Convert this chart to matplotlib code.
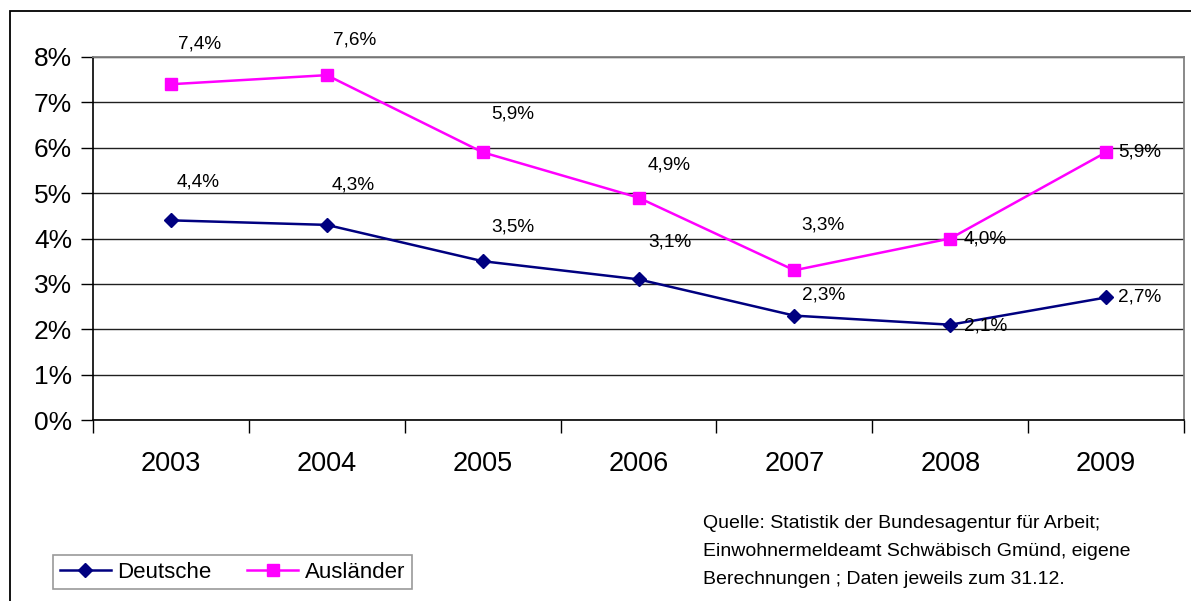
import matplotlib
matplotlib.use("Agg")
import matplotlib.pyplot as plt
from matplotlib.patches import Rectangle
from matplotlib.lines import Line2D

plt.rcParams['font.family'] = ['Liberation Sans', 'DejaVu Sans']

years = ['2003', '2004', '2005', '2006', '2007', '2008', '2009']
deutsche = [4.4, 4.3, 3.5, 3.1, 2.3, 2.1, 2.7]
auslaender = [7.4, 7.6, 5.9, 4.9, 3.3, 4.0, 5.9]
y_ticks = [0, 1, 2, 3, 4, 5, 6, 7, 8]
source_lines = [
    'Quelle: Statistik der Bundesagentur für Arbeit;',
    'Einwohnermeldeamt Schwäbisch Gmünd, eigene',
    'Berechnungen ; Daten jeweils zum 31.12.',
]

W, H = 1191, 601
fig = plt.figure(figsize=(W / 100, H / 100), dpi=100)

# outer chart frame
fig.patches.append(Rectangle((10 / W, -0.01), 1.02, (H - 11) / H + 0.01,
                             transform=fig.transFigure, fill=False,
                             edgecolor='black', lw=1.3))

left, right, top, bottom = 93, 1184, 57, 420
ax = fig.add_axes([left / W, 1 - bottom / H, (right - left) / W, (bottom - top) / H])

x = list(range(len(years)))
ax.plot(x, deutsche, color='#000080', lw=1.8, marker='D', ms=7.5,
        markerfacecolor='#000080', markeredgecolor='#000080', zorder=3)
ax.plot(x, auslaender, color='#FF00FF', lw=1.8, marker='s', ms=8,
        markerfacecolor='#FF00FF', markeredgecolor='#FF00FF', zorder=3)

ax.set_xlim(-0.5, len(years) - 0.5)
ax.set_ylim(0, 8)
ax.set_yticks(y_ticks)
ax.set_yticklabels([f'{t}%' for t in y_ticks], fontsize=19)
ax.yaxis.grid(True, color='#202020', lw=1)
ax.set_axisbelow(True)

# category ticks sit between the years
ax.set_xticks([i - 0.5 for i in range(len(years) + 1)])
ax.set_xticklabels([])
ax.set_xticks(x, minor=True)
ax.set_xticklabels(years, minor=True, fontsize=19.5)
ax.tick_params(axis='x', which='minor', length=0, pad=22)
ax.tick_params(axis='x', which='major', length=9, width=1, direction='out')
ax.tick_params(axis='y', length=9, width=1, direction='out', pad=6)

for s in ['top', 'right']:
    ax.spines[s].set_color('#808080')
    ax.spines[s].set_linewidth(1.3)
for s in ['left', 'bottom']:
    ax.spines[s].set_color('black')
    ax.spines[s].set_linewidth(1.2)

def pct(v):
    return f'{v:.1f}'.replace('.', ',') + '%'

# label offsets in pixels (right, up) from each point
offs_a = [(29, 40), (28, 35), (30, 38), (31, 33), (29, 45), (35, -1), (34, 0)]
offs_d = [(27, 38), (26, 40), (30, 34), (31, 37), (29, 21), (35, -1), (34, 0)]
for i in x:
    ax.annotate(pct(auslaender[i]), (i, auslaender[i]), xytext=offs_a[i],
                textcoords='offset pixels', ha='center', va='center',
                fontsize=13.7, annotation_clip=False, zorder=4)
    ax.annotate(pct(deutsche[i]), (i, deutsche[i]), xytext=offs_d[i],
                textcoords='offset pixels', ha='center', va='center',
                fontsize=13.7, annotation_clip=False, zorder=4)

handles = [
    Line2D([], [], color='#000080', lw=1.8, marker='D', ms=7.5),
    Line2D([], [], color='#FF00FF', lw=1.8, marker='s', ms=8),
]
leg = fig.legend(handles, ['Deutsche', 'Ausländer'], ncol=2,
                 loc='center left', bbox_to_anchor=(53 / W, 1 - 572 / H),
                 fontsize=16, frameon=True, fancybox=False,
                 edgecolor='#808080', handlelength=2.3, handletextpad=0.3,
                 columnspacing=1.6, borderpad=0.3, borderaxespad=0)
leg.get_frame().set_linewidth(1.2)

for k, line in enumerate(source_lines):
    fig.text(703 / W, 1 - (524 + 27.5 * k) / H, line, fontsize=14,
             ha='left', va='center')

fig.savefig('out.png', dpi=100)
